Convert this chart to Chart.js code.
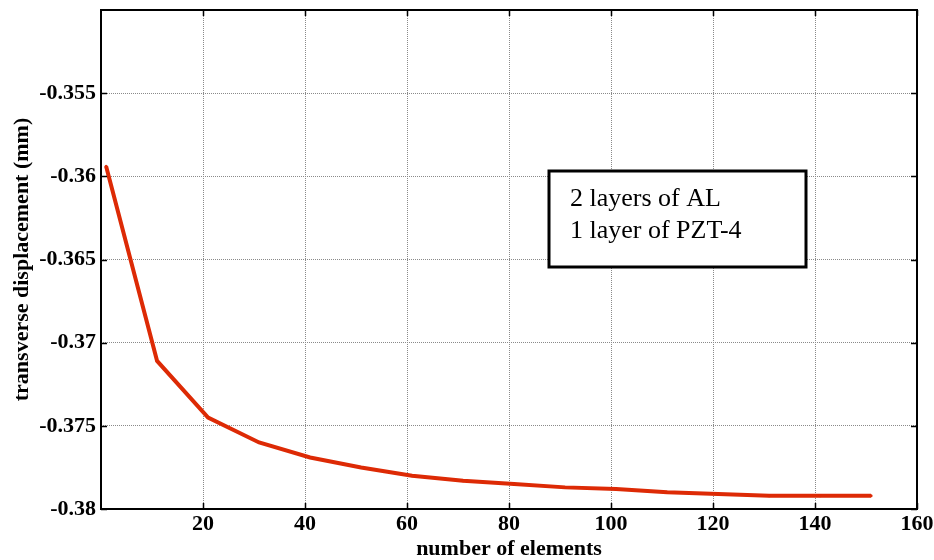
<!DOCTYPE html>
<html>
<head>
<meta charset="utf-8">
<script src="https://cdn.jsdelivr.net/npm/chart.js@4/dist/chart.umd.min.js"></script>
<style>
  html, body { margin: 0; padding: 0; background: #fff; }
  #wrap { width: 934px; height: 560px; }
</style>
</head>
<body>
<div id="wrap"><canvas id="chart" width="934" height="560"></canvas></div>
<script>
// data
const elements = [1, 11, 21, 31, 41, 51, 61, 71, 81, 91, 101, 111, 121, 131, 141, 151];
const displacement = [-0.3594, -0.3711, -0.3745, -0.3760, -0.3769, -0.3775, -0.3780, -0.3783,
                      -0.3785, -0.3787, -0.3788, -0.3790, -0.3791, -0.3792, -0.3792, -0.3792];
const xTicks = [20, 40, 60, 80, 100, 120, 140, 160];
const yTicks = [-0.38, -0.375, -0.37, -0.365, -0.36, -0.355];
const noteLines = ['2 layers of AL', '1 layer of PZT-4'];

const serif = "'Liberation Serif', 'Times New Roman', serif";

// box, inner tick marks and the text note
const framePlugin = {
    id: 'frame',
    afterDraw(chart) {
        const { ctx, chartArea: a, scales } = chart;
        ctx.save();
        ctx.strokeStyle = '#000';
        ctx.lineWidth = 1.5;
        const tl = 6;
        ctx.beginPath();
        xTicks.forEach(v => {
            const px = Math.round(scales.x.getPixelForValue(v)) + 0.5;
            ctx.moveTo(px, a.bottom); ctx.lineTo(px, a.bottom - tl);
            ctx.moveTo(px, a.top); ctx.lineTo(px, a.top + tl);
        });
        yTicks.forEach(v => {
            const py = Math.round(scales.y.getPixelForValue(v)) + 0.5;
            ctx.moveTo(a.left, py); ctx.lineTo(a.left + tl, py);
            ctx.moveTo(a.right, py); ctx.lineTo(a.right - tl, py);
        });
        ctx.stroke();

        ctx.lineWidth = 2;
        ctx.strokeRect(a.left, a.top, a.right - a.left, a.bottom - a.top);

        // note box
        const bx = 549, by = 171, bw = 257, bh = 96;
        ctx.fillStyle = '#fff';
        ctx.fillRect(bx, by, bw, bh);
        ctx.lineWidth = 3;
        ctx.strokeRect(bx, by, bw, bh);
        ctx.fillStyle = '#000';
        ctx.font = '26px ' + serif;
        ctx.textBaseline = 'middle';
        ctx.textAlign = 'left';
        ctx.fillText(noteLines[0], bx + 21, by + 28);
        ctx.fillText(noteLines[1], bx + 21, by + 60);
        ctx.restore();
    }
};

const fmt = v => String(+Number(v).toFixed(3));

new Chart(document.getElementById('chart'), {
    type: 'line',
    data: {
        labels: elements,
        datasets: [{
            data: elements.map((x, i) => ({ x: x, y: displacement[i] })),
            borderColor: '#dd2a05',
            backgroundColor: '#dd2a05',
            borderWidth: 4,
            pointRadius: 1.5,
            pointBorderWidth: 0,
            tension: 0,
            fill: false
        }]
    },
    options: {
        responsive: false,
        animation: false,
        layout: { padding: { top: 10, right: 17, left: 0, bottom: 0 } },
        plugins: { legend: { display: false }, tooltip: { enabled: false } },
        scales: {
            x: {
                type: 'linear',
                min: 0,
                max: 160,
                afterBuildTicks: s => { s.ticks = xTicks.map(v => ({ value: v })); },
                afterFit: s => { s.height = 51; s.paddingLeft = 0; s.paddingRight = 0; },
                grid: { color: '#8a8a8a', lineWidth: 1, drawTicks: false },
                border: { display: false, dash: [1, 1] },
                ticks: {
                    padding: 2,
                    color: '#000',
                    font: { family: serif, size: 22, weight: 'bold' },
                    callback: v => fmt(v)
                },
                title: {
                    display: true,
                    text: 'number of elements',
                    color: '#000',
                    padding: 0,
                    font: { family: serif, size: 22, weight: 'bold', lineHeight: 1 }
                }
            },
            y: {
                type: 'linear',
                min: -0.38,
                max: -0.35,
                afterBuildTicks: s => { s.ticks = yTicks.map(v => ({ value: v })); },
                afterFit: s => { s.width = 101; s.paddingTop = 0; s.paddingBottom = 0; },
                grid: { color: '#8a8a8a', lineWidth: 1, drawTicks: false },
                border: { display: false, dash: [1, 1] },
                ticks: {
                    padding: 5,
                    color: '#000',
                    font: { family: serif, size: 22, weight: 'bold' },
                    callback: v => fmt(v)
                },
                title: {
                    display: true,
                    text: 'transverse displacement (mm)',
                    color: '#000',
                    padding: { top: 11, bottom: 0 },
                    font: { family: serif, size: 22, weight: 'bold', lineHeight: 1 }
                }
            }
        }
    },
    plugins: [framePlugin]
});
</script>
</body>
</html>
